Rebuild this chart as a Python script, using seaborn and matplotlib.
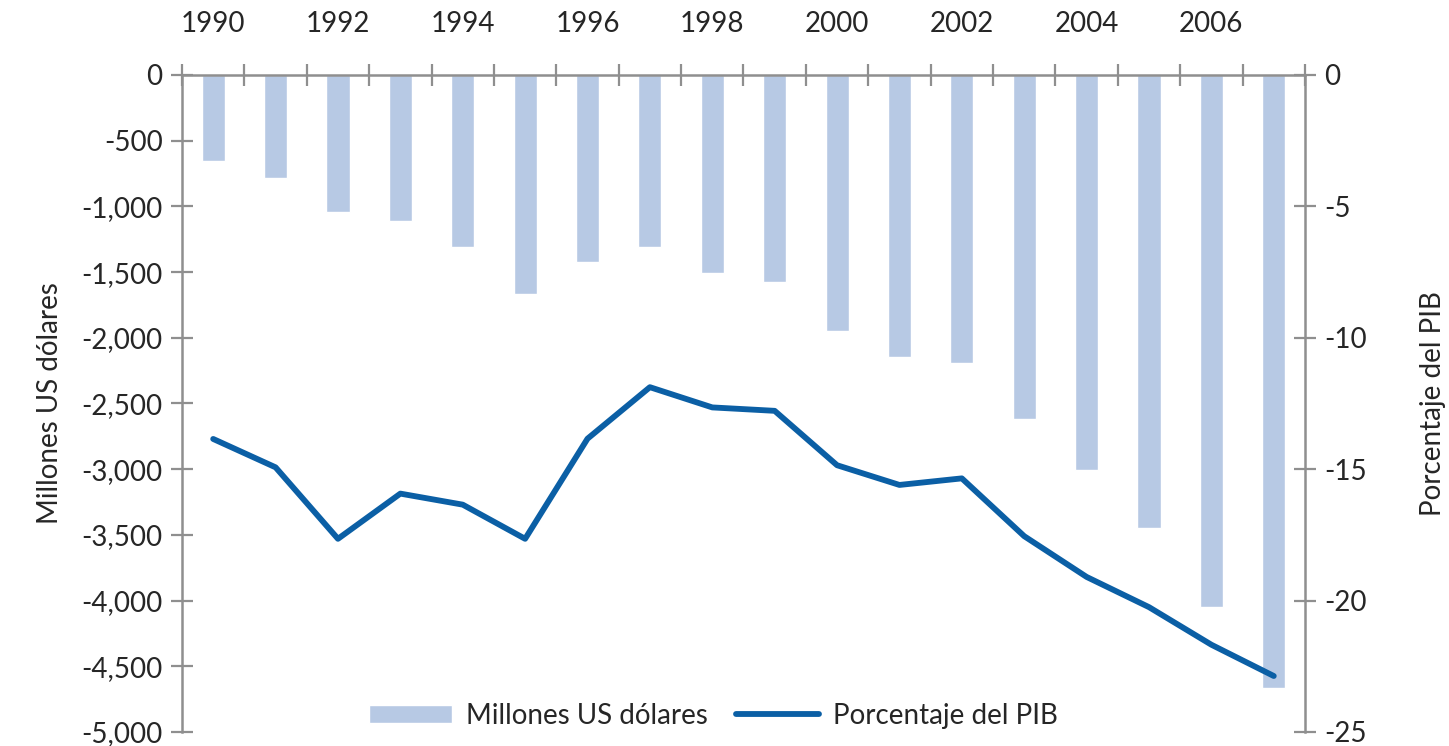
import matplotlib
matplotlib.use("Agg")
import matplotlib.pyplot as plt
import seaborn as sns
import numpy as np
import pandas as pd
from matplotlib.ticker import FixedLocator, FuncFormatter

# ---------------- data ----------------
years = [str(y) for y in range(1990, 2008)]
millones = [-652, -786, -1045, -1110, -1310, -1665, -1425, -1310, -1505,
            -1575, -1950, -2145, -2190, -2615, -3005, -3445, -4050, -4665]
pib = [-13.85, -14.93, -17.65, -15.93, -16.35, -17.65, -13.84, -11.88, -12.65,
       -12.78, -14.85, -15.60, -15.35, -17.55, -19.10, -20.25, -21.68, -22.87]
left_ticks = [0, -500, -1000, -1500, -2000, -2500, -3000, -3500, -4000, -4500, -5000]
right_ticks = [0, -5, -10, -15, -20, -25]
bar_label = "Millones US dólares"
line_label = "Porcentaje del PIB"

df = pd.DataFrame({"year": years, "millones": millones, "pib": pib})
df["pos"] = np.arange(len(years))

# ---------------- style ----------------
sns.set_style("white")
plt.rcParams["font.family"] = ["Lato", "DejaVu Sans"]
plt.rcParams["axes.unicode_minus"] = False
GRAY = "#8f8f8f"
BAR = "#b7c9e4"
LINE = "#0b5fa5"
FS = 20

fig = plt.figure(figsize=(14.49, 7.46), dpi=100)
ax = fig.add_axes([0.1256, 0.0188, 0.7750, 0.8807])

sns.barplot(data=df, x="year", y="millones", color=BAR, saturation=1,
            width=0.37, ax=ax, label=bar_label, zorder=2)
ax.set_xlim(-0.5, len(years) - 0.5)
ax.set_ylim(-5000, 0)
ax.set_ylabel("Millones US dólares", fontsize=FS, labelpad=13)
ax.set_xlabel("")

ax2 = ax.twinx()
sns.lineplot(data=df, x="pos", y="pib", color=LINE, linewidth=4.2,
             ax=ax2, label=line_label, zorder=3)
ax2.set_ylim(-25, 0)
ax2.set_ylabel("Porcentaje del PIB", fontsize=FS, labelpad=38)
ax2.set_xlabel("")

# x axis on top: boundary ticks, labels every two years
ax.xaxis.tick_top()
ax.set_xticks(np.arange(len(years)))
ax.set_xticklabels([y if i % 2 == 0 else "" for i, y in enumerate(years)], fontsize=FS)
ax.xaxis.set_minor_locator(FixedLocator(np.arange(-0.5, len(years), 1)))
ax.tick_params(axis="x", which="major", length=0, pad=27, labelsize=FS)
ax.tick_params(axis="x", which="minor", direction="inout", length=16, width=1.6,
               color=GRAY, top=True, bottom=False)
ax2.tick_params(axis="x", which="both", bottom=False, top=False,
                labelbottom=False, labeltop=False)

ax.set_yticks(left_ticks)
ax.yaxis.set_major_formatter(FuncFormatter(lambda v, p: f"{int(v):,}"))
ax.tick_params(axis="y", direction="inout", length=16, width=1.6, color=GRAY,
               labelsize=FS, pad=6)
ax2.set_yticks(right_ticks)
ax2.yaxis.set_major_formatter(FuncFormatter(lambda v, p: f"{int(v)}"))
ax2.tick_params(axis="y", direction="inout", length=16, width=1.6, color=GRAY,
                labelsize=FS, pad=6)

for a in (ax, ax2):
    for s in a.spines.values():
        s.set_visible(False)
ax.spines["left"].set_visible(True)
ax.spines["top"].set_visible(True)
ax2.spines["right"].set_visible(True)
for s in (ax.spines["left"], ax.spines["top"], ax2.spines["right"]):
    s.set_color(GRAY)
    s.set_linewidth(1.8)
ax.grid(False)
ax2.grid(False)

# legend
h1, l1 = ax.get_legend_handles_labels()
h2, l2 = ax2.get_legend_handles_labels()
if ax.get_legend():
    ax.get_legend().remove()
if ax2.get_legend():
    ax2.get_legend().remove()
ax2.legend(h1 + h2, l1 + l2, loc="center", bbox_to_anchor=(0.473, 0.025),
           ncol=2, frameon=False, fontsize=FS, handlelength=3.0,
           handleheight=0.6, columnspacing=1.0, handletextpad=0.5)

fig.savefig("out.png", dpi=100)
